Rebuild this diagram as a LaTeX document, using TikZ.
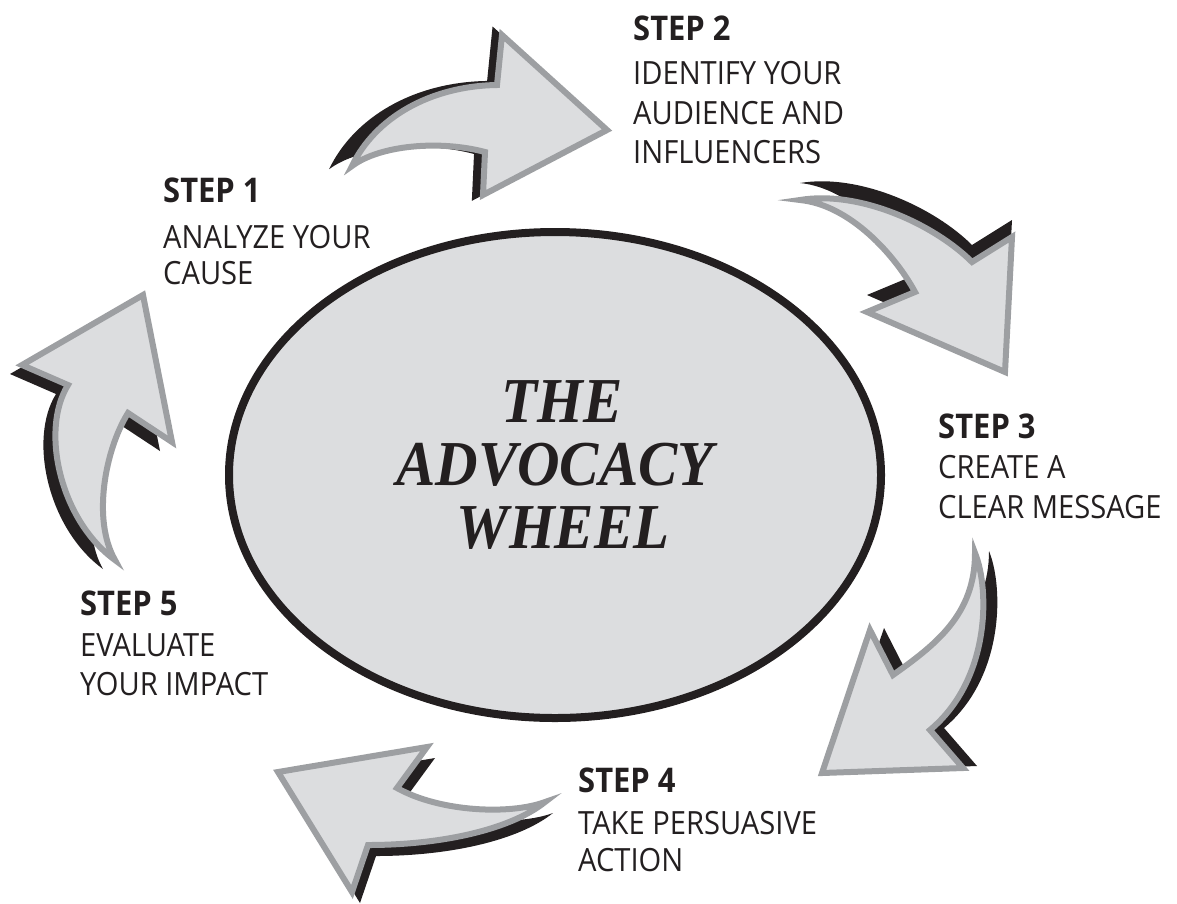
\documentclass[tikz,border=0pt]{standalone}
\usepackage{fontspec}
\setsansfont[FakeStretch=0.91]{Open Sans}
\newfontfamily\wheelfont[FakeStretch=0.92]{Liberation Serif}
\usetikzlibrary{shapes.geometric}

\definecolor{paleshade}{HTML}{DCDDDF}
\definecolor{rimgray}{HTML}{9D9FA2}
\definecolor{inkdark}{HTML}{231F20}

% curved arrow outlines, in pixel units (y grows downward)
\newcommand\arrowOne{(143,295) -- (172,442) -- (128,413)
  .. controls (105,450) and (92,520) .. (115,560)
  .. controls (60,520) and (40,430) .. (68,385) -- (22,365) -- cycle}
\newcommand\arrowTwo{(352,166) .. controls (375,118) and (430,86) .. (497,85)
  -- (502,35) -- (607,130) -- (483,195) -- (485,152)
  .. controls (440,140) and (380,145) .. (352,166) -- cycle}
\newcommand\arrowThree{(800,200) .. controls (860,190) and (935,225) .. (972,262)
  -- (1012,237) -- (1005,372) -- (867,312) -- (915,292)
  .. controls (895,255) and (850,205) .. (800,200) -- cycle}
\newcommand\arrowFour{(975,553) .. controls (990,590) and (990,680) .. (930,730)
  -- (963,768) -- (822,773) -- (870,630) -- (893,675)
  .. controls (935,645) and (975,615) .. (975,553) -- cycle}
\newcommand\arrowFive{(545,802) .. controls (510,815) and (440,812) .. (397,788)
  -- (427,747) -- (278,772) -- (352,892) -- (368,845)
  .. controls (440,845) and (510,830) .. (545,802) -- cycle}

\begin{document}
\begin{tikzpicture}[x=1pt,y=-1pt,
  shadowfill/.style={fill=inkdark},
  arrowbody/.style={fill=paleshade,draw=rimgray,line width=6pt,line join=miter,miter limit=10},
  steptitle/.style={anchor=base west,inner sep=0pt,text=inkdark,font=\sffamily\bfseries\fontsize{34}{34}\selectfont},
  stepbody/.style={anchor=base west,inner sep=0pt,text=inkdark,font=\sffamily\fontsize{32}{32}\selectfont},
  wheeltext/.style={anchor=base,inner sep=0pt,text=inkdark,font=\wheelfont\bfseries\itshape\fontsize{64}{64}\selectfont}]
\useasboundingbox (0,0) rectangle (1177,903);

% the wheel
\node[ellipse,draw=inkdark,line width=8pt,fill=paleshade,
  minimum width=652pt,minimum height=486pt,inner sep=0pt] (wheel) at (555,475) {};
\node[wheeltext] (title1) at (562,422) {THE};
\node[wheeltext] (title2) at (555,485) {ADVOCACY};
\node[wheeltext] (title3) at (563,548) {WHEEL};

% arrow shadows
\fill[shadowfill,shift={(-12,9)}] \arrowOne;
\fill[shadowfill,scale around={1.09:(607,130)}] \arrowTwo;
\fill[shadowfill,shift={(0,-17)}] \arrowThree;
\fill[shadowfill,shift={(14,-2)}] \arrowFour;
\fill[shadowfill,shift={(8,11)}] \arrowFive;

% arrow faces
\path[arrowbody] \arrowOne;
\path[arrowbody] \arrowTwo;
\path[arrowbody] \arrowThree;
\path[arrowbody] \arrowFour;
\path[arrowbody] \arrowFive;

% step labels
\node[steptitle] (s1a) at (163,202) {STEP 1};
\node[stepbody]  (s1b) at (163,248) {ANALYZE YOUR};
\node[stepbody]  (s1c) at (163,284) {CAUSE};

\node[steptitle] (s2a) at (633,40) {STEP 2};
\node[stepbody]  (s2b) at (633,84) {IDENTIFY YOUR};
\node[stepbody]  (s2c) at (633,124) {AUDIENCE AND};
\node[stepbody]  (s2d) at (633,163) {INFLUENCERS};

\node[steptitle] (s3a) at (938,438) {STEP 3};
\node[stepbody]  (s3b) at (938,478) {CREATE A};
\node[stepbody]  (s3c) at (938,518) {CLEAR MESSAGE};

\node[steptitle] (s4a) at (578,792) {STEP 4};
\node[stepbody]  (s4b) at (578,834) {TAKE PERSUASIVE};
\node[stepbody]  (s4c) at (578,871) {ACTION};

\node[steptitle] (s5a) at (80,615) {STEP 5};
\node[stepbody]  (s5b) at (80,656) {EVALUATE};
\node[stepbody]  (s5c) at (80,695) {YOUR IMPACT};
\end{tikzpicture}
\end{document}
